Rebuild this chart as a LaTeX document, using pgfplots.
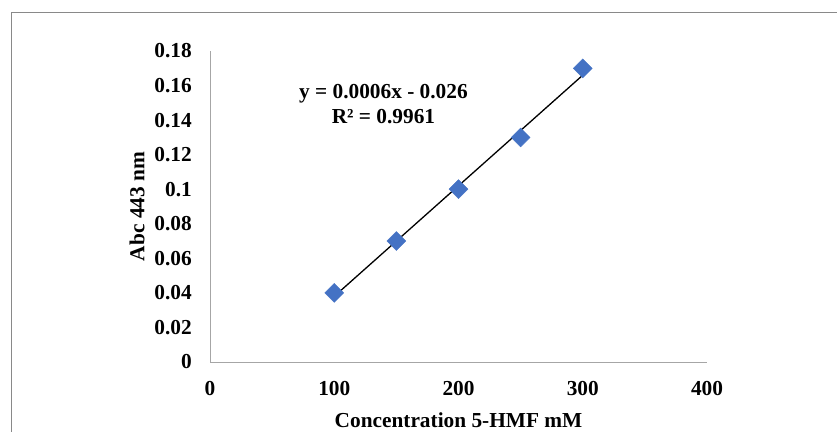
\documentclass[border=0pt]{standalone}
\usepackage{fontspec}
\setmainfont{Liberation Serif}
\usepackage{pgfplots}
\pgfplotsset{compat=1.18}
\definecolor{markblue}{RGB}{68,114,196}
\definecolor{axisgray}{RGB}{166,166,166}
\definecolor{framegray}{RGB}{137,137,137}
\newcommand{\chartfont}{\fontsize{21.33bp}{24.5bp}\selectfont\bfseries}
\begin{document}
\begin{tikzpicture}
\path[use as bounding box] (0,0) rectangle (837bp,432bp);
\clip (0,0) rectangle (837bp,432bp);
% chart area border (runs off the right and bottom edges)
\draw[framegray, line width=1bp] (11bp,-20bp) -- (11bp,419bp) -- (870bp,419bp);
\begin{axis}[
    at={(210bp,70bp)}, anchor=south west,
    scale only axis, width=497bp, height=311bp,
    xmin=0, xmax=400, ymin=0, ymax=0.18,
    axis x line=bottom, axis y line=left,
    axis line style={-, draw=axisgray, line width=1bp},
    xtick={0,100,200,300,400},
    ytick={0,0.02,0.04,0.06,0.08,0.1,0.12,0.14,0.16,0.18},
    major tick length=0pt,
    /pgf/number format/assume math mode=true,
    yticklabel style={/pgf/number format/fixed, /pgf/number format/precision=2,
        anchor=east, inner sep=0pt, xshift=-18bp},
    xticklabel style={anchor=north, inner sep=0pt, yshift=-19bp},
    every tick label/.append style={font=\chartfont},
    xlabel={Concentration 5-HMF mM},
    ylabel={Abc 443 nm},
    xlabel style={at={(axis description cs:0.5,0)}, anchor=center, yshift=-58bp, font=\chartfont},
    ylabel style={at={(axis description cs:0,0.5)}, anchor=center, yshift=73bp, font=\chartfont},
    clip=false,
]
\addplot[only marks, mark=square*, mark size=6.7bp,
    mark options={rotate=45, fill=markblue, draw=markblue, line width=0.4bp}]
    coordinates {(100,0.04) (150,0.07) (200,0.10) (250,0.13) (300,0.17)};
\addplot[black, line width=1.3bp] coordinates {(100,0.038) (300,0.166)};
\node[align=center, font=\chartfont, inner sep=0pt] at (axis cs:139.6,0.1492)
    {y = 0.0006x - 0.026\\R² = 0.9961};
\end{axis}
\end{tikzpicture}
\end{document}
